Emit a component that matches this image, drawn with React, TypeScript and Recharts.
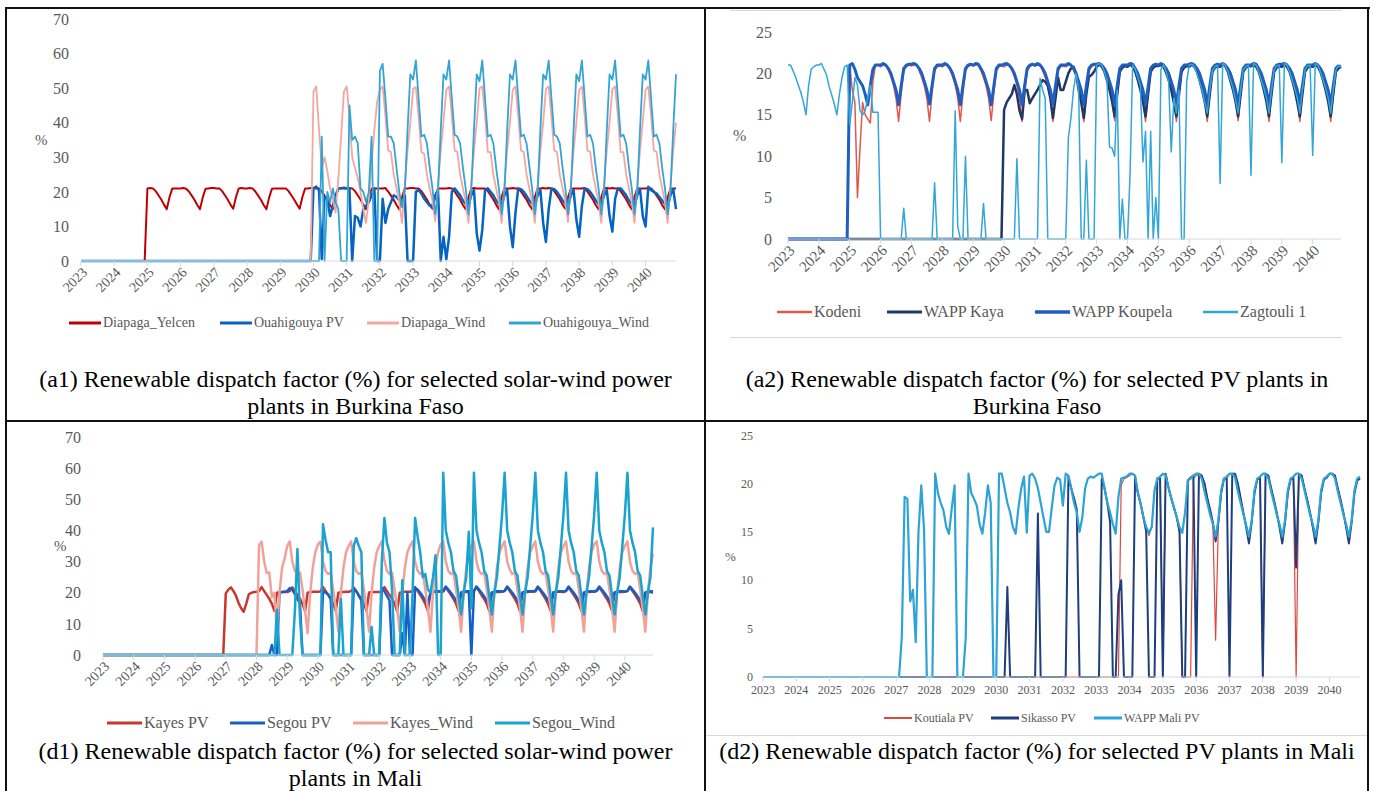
import React from "react";
import { LineChart, Line, XAxis, YAxis, Legend, Label } from "recharts";

const FONT = '"Liberation Serif", "Times New Roman", serif';
const GREY = "#595959";

const years = [2023, 2024, 2025, 2026, 2027, 2028, 2029, 2030, 2031, 2032, 2033, 2034, 2035, 2036, 2037, 2038, 2039, 2040];
const months = ["01", "02", "03", "04", "05", "06", "07", "08", "09", "10", "11", "12"];
const pvTicks = [0, 5, 10, 15, 20, 25];
const windTicks = [0, 10, 20, 30, 40, 50, 60, 70];

// ---- (a1) Burkina Faso, solar-wind: one row of monthly values per year ----
const diapagaYelcen = [
  [0, 0, 0, 0, 0, 0, 0, 0, 0, 0, 0, 0],
  [0, 0, 0, 0, 0, 0, 0, 0, 0, 0, 0, 0],
  [21, 21.1, 21, 20.2, 19, 17.8, 16.3, 15, 18.5, 21, 21, 21],
  [21, 21.1, 20.9, 20.1, 18.9, 17.7, 16.2, 15, 18.4, 20.9, 21, 21.1],
  [21.1, 21, 21, 20.2, 19, 17.8, 16.3, 15.1, 18.5, 21, 21.1, 21],
  [21, 21.1, 21, 20.1, 18.9, 17.7, 16.2, 15, 18.4, 20.9, 21, 21],
  [21, 21, 21, 20.2, 19, 17.8, 16.4, 15.1, 18.5, 21, 21, 21.1],
  [21.1, 21, 21, 20.1, 18.9, 17.6, 16.2, 15, 18.4, 21, 21.1, 21],
  [21, 21.1, 21, 20.2, 19, 17.8, 16.3, 15, 18.5, 20.9, 21, 21],
  [21, 21, 21.1, 20.1, 18.9, 17.7, 16.2, 15, 18.4, 21, 21, 21.1],
  [21.1, 21, 21, 20.2, 19, 17.8, 16.3, 15.1, 18.5, 21, 21, 21],
  [21, 21.1, 21, 20.1, 18.9, 17.7, 16.2, 15, 18.4, 20.9, 21.1, 21],
  [21, 21, 21, 20.2, 19, 17.8, 16.3, 15, 18.5, 21, 21, 21],
  [21.1, 21, 21, 20.1, 18.9, 17.7, 16.2, 15, 18.4, 21, 21, 21.1],
  [21, 21.1, 21, 20.2, 19, 17.8, 16.3, 15.1, 18.5, 20.9, 21, 21],
  [21, 21, 21.1, 20.1, 18.9, 17.7, 16.2, 15, 18.4, 21, 21.1, 21],
  [21.1, 21, 21, 20.2, 19, 17.8, 16.3, 15, 18.5, 21, 21, 21],
  [21, 21.1, 21, 20.1, 18.9, 17.7, 16.2, 15, 18.4, 20.9, 21, 21],
];
const ouahigouyaPV = [
  [0, 0, 0, 0, 0, 0, 0, 0, 0, 0, 0, 0],
  [0, 0, 0, 0, 0, 0, 0, 0, 0, 0, 0, 0],
  [0, 0, 0, 0, 0, 0, 0, 0, 0, 0, 0, 0],
  [0, 0, 0, 0, 0, 0, 0, 0, 0, 0, 0, 0],
  [0, 0, 0, 0, 0, 0, 0, 0, 0, 0, 0, 0],
  [0, 0, 0, 0, 0, 0, 0, 0, 0, 0, 0, 0],
  [0, 0, 0, 0, 0, 0, 0, 0, 0, 0, 0, 0],
  [21, 21.5, 20.5, 0.5, 18.5, 18, 13, 16, 19, 21, 21, 21.2],
  [21, 21, 0, 13, 12.5, 10, 15, 16, 17, 19, 21, 0],
  [0, 18, 11, 15, 17, 19, 18.5, 17.5, 16.5, 19, 0, 0],
  [0, 20, 20.5, 19.5, 18, 17, 16, 16, 19, 20.5, 0, 7],
  [0.5, 7, 20, 21, 20, 19, 17.5, 16.5, 16, 19, 20.5, 8],
  [3, 9, 20.5, 21, 20, 19, 17.5, 16.5, 16, 19, 20.5, 10],
  [4, 14, 21, 20.8, 20, 18.8, 17.5, 16.5, 16.2, 19, 20.5, 11],
  [5.5, 15, 21, 20.8, 20, 18.8, 17.5, 16.5, 16, 19, 20.5, 12],
  [7, 16, 21, 20.8, 20, 18.8, 17.5, 16.5, 16.2, 19, 20.5, 13],
  [8.5, 18, 21, 21, 20, 19, 17.5, 16.5, 16, 19, 20.8, 13],
  [10, 21.5, 20.5, 20, 19.5, 18.5, 17.5, 16.5, 16, 19, 20.8, 15],
];
const diapagaWind = [
  [0, 0, 0, 0, 0, 0, 0, 0, 0, 0, 0, 0],
  [0, 0, 0, 0, 0, 0, 0, 0, 0, 0, 0, 0],
  [0, 0, 0, 0, 0, 0, 0, 0, 0, 0, 0, 0],
  [0, 0, 0, 0, 0, 0, 0, 0, 0, 0, 0, 0],
  [0, 0, 0, 0, 0, 0, 0, 0, 0, 0, 0, 0],
  [0, 0, 0, 0, 0, 0, 0, 0, 0, 0, 0, 0],
  [0, 0, 0, 0, 0, 0, 0, 0, 0, 0, 0, 0],
  [49, 50.5, 38, 27, 30, 26, 21, 18, 14, 24, 36, 49],
  [50.5, 42, 30, 27, 24, 20, 15, 11, 18, 28, 38, 46],
  [49.5, 50.5, 42, 32, 31.5, 25, 21, 17, 11, 22, 32, 40],
  [49.8, 50.3, 41.5, 31.5, 31, 25, 21, 17.5, 11.5, 22, 32, 40.5],
  [49.5, 50.5, 42, 32, 31.5, 25, 21, 17, 11, 22, 32, 40],
  [50, 50.5, 42, 31.5, 31.5, 25, 21, 17, 11, 22, 32, 40],
  [49.5, 50.5, 42, 32, 31.5, 25, 21, 17, 11, 22, 32, 40],
  [49.8, 50.5, 41.5, 32, 31.5, 25, 21, 17, 11.2, 22, 32, 40],
  [49.5, 50.4, 42, 32, 31.5, 25, 21, 17, 11, 22, 32, 40],
  [49.8, 50.5, 42, 31.5, 31.5, 25, 21, 17, 11, 22, 32, 40.5],
  [49.5, 50.5, 42, 32, 31.5, 25, 21, 17, 11, 22, 32, 40],
];
const ouahigouyaWind = [
  [0, 0, 0, 0, 0, 0, 0, 0, 0, 0, 0, 0],
  [0, 0, 0, 0, 0, 0, 0, 0, 0, 0, 0, 0],
  [0, 0, 0, 0, 0, 0, 0, 0, 0, 0, 0, 0],
  [0, 0, 0, 0, 0, 0, 0, 0, 0, 0, 0, 0],
  [0, 0, 0, 0, 0, 0, 0, 0, 0, 0, 0, 0],
  [0, 0, 0, 0, 0, 0, 0, 0, 0, 0, 0, 0],
  [0, 0, 0, 0, 0, 0, 0, 0, 0, 0, 0, 0],
  [0, 0, 0, 36, 0, 20, 17, 21, 17, 15, 0, 0],
  [0, 45, 35, 36, 34, 21, 20, 17, 20, 36, 0, 0],
  [55, 57, 47, 36, 36, 34, 27, 20, 15.5, 20, 38, 54],
  [52.5, 58, 47, 36, 36.5, 34, 27, 21, 13.5, 20, 38, 54],
  [52.5, 58, 47, 36.5, 36, 34, 27, 21, 13.5, 20, 38, 54],
  [52, 58, 47, 36, 36.5, 34, 27, 21, 13.5, 20, 38, 54],
  [52.5, 58, 47, 36, 36.5, 34, 27.5, 21, 13.5, 20, 38, 54],
  [52.5, 58, 47, 36.5, 36, 34, 27, 21, 13.5, 20, 38, 54],
  [52, 58, 47, 36, 36.5, 34, 27, 21, 13.5, 20, 38, 54],
  [52.5, 58, 47, 36, 36.5, 34, 27, 21, 13.5, 20, 38, 54],
  [52.5, 58, 47, 36, 36.5, 34, 27, 21, 13.5, 20, 38, 54],
];

// ---- (a2) Burkina Faso, PV plants ----
const kodeni = [
  [0, 0, 0, 0, 0, 0, 0, 0, 0, 0, 0, 0],
  [0, 0, 0, 0, 0, 0, 0, 0, 0, 0, 0, 0],
  [21, 18, 16.5, 5, 11, 16.5, 15, 14.5, 14, 19, 21, 21],
  [20.8, 21, 21, 20.4, 19.6, 18.6, 17, 14.2, 17.5, 20.3, 20.8, 21],
  [20.9, 21, 21.1, 20.3, 19.5, 18.5, 17, 14.2, 17.6, 20.3, 20.8, 20.9],
  [20.8, 21, 21, 20.4, 19.6, 18.6, 17, 14.2, 17.5, 20.3, 20.8, 21],
  [20.9, 21, 21, 20.3, 19.5, 18.5, 17, 14.3, 17.5, 20.3, 20.8, 20.9],
  [20.8, 21, 21, 20.4, 19.6, 18.6, 17, 14.2, 17.5, 20.3, 20.8, 21],
  [20.9, 21, 21.1, 20.3, 19.5, 18.5, 17, 14.2, 17.6, 20.3, 20.8, 20.9],
  [20.8, 21, 21, 20.4, 19.6, 18.6, 17, 14.2, 17.5, 20.3, 20.8, 21],
  [20.9, 21, 21, 20.3, 19.5, 18.5, 17, 14.3, 17.5, 20.3, 20.8, 20.9],
  [20.8, 21, 21, 20.4, 19.6, 18.6, 17, 14.2, 17.5, 20.3, 20.8, 21],
  [20.9, 21, 21.1, 20.3, 19.5, 18.5, 17, 14.2, 17.6, 20.3, 20.8, 20.9],
  [20.8, 21, 21, 20.4, 19.6, 18.6, 17, 14.2, 17.5, 20.3, 20.8, 21],
  [20.9, 21, 21, 20.3, 19.5, 18.5, 17, 14.3, 17.5, 20.3, 20.8, 20.9],
  [20.8, 21, 21, 20.4, 19.6, 18.6, 17, 14.2, 17.5, 20.3, 20.8, 21],
  [20.9, 21, 21.1, 20.3, 19.5, 18.5, 17, 14.2, 17.6, 20.3, 20.8, 20.9],
  [20.8, 21, 21, 20.4, 19.6, 18.6, 17, 14.2, 17.5, 20.3, 20.6, 20.8],
];
const wappKaya = [
  [0, 0, 0, 0, 0, 0, 0, 0, 0, 0, 0, 0],
  [0, 0, 0, 0, 0, 0, 0, 0, 0, 0, 0, 0],
  [0, 0, 0, 0, 0, 0, 0, 0, 0, 0, 0, 0],
  [0, 0, 0, 0, 0, 0, 0, 0, 0, 0, 0, 0],
  [0, 0, 0, 0, 0, 0, 0, 0, 0, 0, 0, 0],
  [0, 0, 0, 0, 0, 0, 0, 0, 0, 0, 0, 0],
  [0, 0, 0, 0, 0, 0, 0, 0, 0, 0, 0, 0],
  [15.6, 16.5, 17, 17.5, 18.6, 17.5, 15.5, 14.5, 18, 18, 16.4, 17],
  [17.5, 18, 18.6, 19.2, 19, 18.5, 17, 14.6, 17, 19.5, 18, 18],
  [19, 20, 20.6, 20.8, 20, 18, 16.5, 14.6, 17.5, 19.6, 19.8, 20.2],
  [20.8, 21.1, 20.8, 20.2, 19.2, 18, 16.6, 14.8, 17.5, 20.2, 20.7, 20.9],
  [20.8, 21.1, 20.8, 20.2, 19.2, 18, 16.6, 14.8, 17.5, 20.2, 20.7, 20.9],
  [20.9, 21, 20.8, 20.1, 19.2, 18, 16.5, 14.8, 17.4, 20.2, 20.7, 20.9],
  [20.8, 21.1, 20.8, 20.2, 19.2, 18, 16.6, 14.8, 17.5, 20.2, 20.7, 20.9],
  [20.8, 21.1, 20.9, 20.2, 19.1, 18, 16.6, 14.8, 17.5, 20.2, 20.7, 20.9],
  [20.9, 21, 20.8, 20.2, 19.2, 18, 16.6, 14.8, 17.5, 20.2, 20.7, 20.9],
  [20.8, 21.1, 20.8, 20.2, 19.2, 18, 16.5, 14.8, 17.5, 20.2, 20.7, 20.9],
  [20.8, 21.1, 20.8, 20.2, 19.2, 18, 16.6, 14.8, 17.5, 20.2, 20.6, 20.8],
];
const wappKoupela = [
  [0, 0, 0, 0, 0, 0, 0, 0, 0, 0, 0, 0],
  [0, 0, 0, 0, 0, 0, 0, 0, 0, 0, 0, 0],
  [21, 21.2, 20.5, 19.5, 19, 18.5, 17.5, 16.2, 18.5, 20.5, 21, 21],
  [21, 21.2, 21, 20.6, 20, 19, 18, 16.2, 18.5, 20.6, 21, 21.1],
  [21.1, 21.2, 21, 20.6, 20, 19, 18, 16.3, 18.5, 20.6, 21, 21],
  [21, 21.2, 21, 20.6, 20, 19, 18, 16.2, 18.5, 20.6, 21, 21.1],
  [21, 21.2, 21.1, 20.6, 20, 19, 18, 16.2, 18.4, 20.6, 21, 21],
  [21.1, 21.2, 21, 20.6, 20, 19, 18, 16.2, 18.5, 20.6, 21, 21.1],
  [21, 21.2, 21, 20.6, 20, 19, 18, 16.3, 18.5, 20.6, 21, 21],
  [21, 21.2, 21, 20.6, 20, 19, 18, 16.2, 18.5, 20.6, 21, 21.1],
  [21.1, 21.2, 21, 20.6, 20, 19, 18, 16.2, 18.5, 20.6, 21, 21],
  [21, 21.2, 21.1, 20.6, 20, 19, 18, 16.2, 18.4, 20.6, 21, 21.1],
  [21, 21.2, 21, 20.6, 20, 19, 18, 16.3, 18.5, 20.6, 21, 21],
  [21.1, 21.2, 21, 20.6, 20, 19, 18, 16.2, 18.5, 20.6, 21, 21.1],
  [21, 21.2, 21, 20.6, 20, 19, 18, 16.2, 18.5, 20.6, 21, 21],
  [21, 21.2, 21.1, 20.6, 20, 19, 18, 16.2, 18.5, 20.6, 21, 21.1],
  [21.1, 21.2, 21, 20.6, 20, 19, 18, 16.3, 18.5, 20.6, 21, 21],
  [21, 21.2, 21, 20.6, 20, 19, 18, 16.2, 18.5, 20.6, 20.9, 20.8],
];
const zagtouli = [
  [21, 21, 20.3, 19.5, 18.6, 17.7, 16.5, 15, 18.5, 20.5, 20.8, 21],
  [21, 21.2, 20.5, 19.8, 18.4, 17.4, 16.3, 15, 17.5, 19.5, 20.8, 21],
  [13.8, 16.5, 19.5, 18.6, 15.5, 15, 15.5, 17, 18.6, 15.3, 15.3, 15.3],
  [0, 0, 0, 0, 0, 0, 0, 0, 0, 3.7, 0, 0],
  [0, 0, 0, 0, 0, 0, 0, 0, 0, 6.8, 0, 0],
  [0, 0, 0, 0, 0, 15.5, 1.5, 0, 0, 10, 0, 0],
  [0, 0, 0, 0, 4.3, 0, 0, 0, 0, 0, 0, 0],
  [0, 0, 0, 0, 0, 9.7, 0, 0, 0, 0, 0, 0],
  [0, 0, 19.4, 18, 17, 0, 0, 0, 0, 0, 0, 0],
  [0, 12.2, 14.6, 18, 20, 18, 0, 0, 9.5, 0, 0, 0],
  [21, 21.2, 21, 20.2, 19.2, 11.1, 11, 10, 18, 0, 4.8, 0],
  [0, 8, 21, 20.5, 19.5, 18.5, 9.3, 13, 0, 13, 0, 5],
  [0, 20.5, 21, 20.2, 19, 10.5, 17, 15.2, 18, 0, 0, 19],
  [21, 21.1, 20.8, 20, 19, 18, 16.5, 15.2, 18, 20.3, 20.8, 21],
  [6.7, 21.2, 21, 20.2, 19.2, 18.2, 16.8, 15.2, 18, 20.4, 20.8, 21],
  [7.7, 21.2, 21, 20.2, 19.2, 18.2, 17, 15.2, 18, 20.4, 20.9, 21],
  [9.2, 21.2, 21, 20.2, 19.2, 18.2, 17, 15.2, 18, 20.4, 20.9, 21],
  [10.1, 21.2, 21, 20.2, 19.2, 18.2, 17, 15.2, 18, 20.4, 20.9, 20.8],
];

// ---- (d1) Mali, solar-wind ----
const kayesPV = [
  [0, 0, 0, 0, 0, 0, 0, 0, 0, 0, 0, 0],
  [0, 0, 0, 0, 0, 0, 0, 0, 0, 0, 0, 0],
  [0, 0, 0, 0, 0, 0, 0, 0, 0, 0, 0, 0],
  [0, 0, 0, 0, 0, 0, 0, 0, 0, 0, 0, 0],
  [19.8, 21, 21.7, 20.5, 19, 16.7, 15, 13.9, 16.5, 19.5, 20, 20.2],
  [20.3, 20.5, 21.8, 20.5, 19.3, 18, 16.5, 14.2, 20, 20.2, 20.2, 20.3],
  [20.2, 20.5, 21.7, 20.5, 19.3, 18, 16.4, 14.1, 20, 20.2, 20.3, 20.3],
  [20.3, 20.4, 21.8, 20.6, 19.3, 18, 16.5, 14.2, 20, 20.2, 20.2, 20.3],
  [20.3, 20.5, 21.7, 20.5, 19.2, 18, 16.5, 14.2, 20.1, 20.2, 20.2, 20.2],
  [20.2, 20.5, 21.8, 20.5, 19.3, 18, 16.5, 14.1, 20, 20.2, 20.3, 20.3],
  [20.3, 20.5, 21.8, 20.6, 19.3, 18, 16.4, 14.2, 20, 20.2, 20.2, 20.3],
  [20.3, 20.4, 21.7, 20.5, 19.3, 18, 16.5, 14.2, 20, 20.2, 20.2, 20.3],
  [20.2, 20.5, 21.8, 20.5, 19.2, 18, 16.5, 14.2, 20, 20.3, 20.2, 20.2],
  [20.3, 20.5, 21.8, 20.5, 19.3, 18, 16.5, 14.1, 20, 20.2, 20.2, 20.3],
  [20.3, 20.4, 21.7, 20.6, 19.3, 18, 16.4, 14.2, 20.1, 20.2, 20.3, 20.3],
  [20.2, 20.5, 21.8, 20.5, 19.3, 18, 16.5, 14.2, 20, 20.2, 20.2, 20.3],
  [20.3, 20.5, 21.8, 20.5, 19.2, 18, 16.5, 14.2, 20, 20.2, 20.2, 20.2],
  [20.3, 20.5, 21.7, 20.5, 19.3, 18, 16.5, 14.1, 20, 20.2, 20.2, 20],
];
const segouPV = [
  [0, 0, 0, 0, 0, 0, 0, 0, 0, 0, 0, 0],
  [0, 0, 0, 0, 0, 0, 0, 0, 0, 0, 0, 0],
  [0, 0, 0, 0, 0, 0, 0, 0, 0, 0, 0, 0],
  [0, 0, 0, 0, 0, 0, 0, 0, 0, 0, 0, 0],
  [0, 0, 0, 0, 0, 0, 0, 0, 0, 0, 0, 0],
  [0, 0, 0, 0, 0, 0, 3.2, 0, 0, 20, 20.2, 20.3],
  [20.5, 21.5, 21, 19.5, 18, 16.5, 0, 0, 0, 0, 0, 0],
  [0, 0, 20.5, 20, 19.5, 18, 0, 0, 0, 0, 0, 0],
  [0, 0, 21, 20.5, 19, 17.5, 0, 0, 0, 0, 0, 0],
  [0, 21.5, 20.5, 19, 17.5, 0, 0, 0, 0, 7, 0, 20],
  [0, 0, 21.5, 21, 20, 18.8, 17.5, 16.3, 20, 20.4, 20.5, 20.5],
  [20.4, 20.6, 22, 21, 20, 18.8, 17.5, 16.3, 20, 20.4, 20.5, 20.5],
  [0, 20.6, 22, 21, 20, 18.8, 17.5, 16.3, 20, 20.4, 20.5, 20.5],
  [20.4, 20.6, 22, 21, 20, 18.8, 17.5, 16.2, 20, 20.4, 20.5, 20.5],
  [20.5, 20.6, 22, 21, 20, 18.8, 17.5, 16.3, 20, 20.4, 20.5, 20.5],
  [20.4, 20.6, 22, 21, 20, 18.8, 17.4, 16.3, 20, 20.4, 20.5, 20.5],
  [20.4, 20.7, 22, 21, 20, 18.8, 17.5, 16.3, 20, 20.4, 20.5, 20.5],
  [20.4, 20.6, 22, 21, 20, 18.8, 17.5, 16.3, 20, 20.4, 20.5, 20.4],
];
const kayesWind = [
  [0, 0, 0, 0, 0, 0, 0, 0, 0, 0, 0, 0],
  [0, 0, 0, 0, 0, 0, 0, 0, 0, 0, 0, 0],
  [0, 0, 0, 0, 0, 0, 0, 0, 0, 0, 0, 0],
  [0, 0, 0, 0, 0, 0, 0, 0, 0, 0, 0, 0],
  [0, 0, 0, 0, 0, 0, 0, 0, 0, 0, 0, 0],
  [0, 35.3, 36.4, 30, 26.3, 26.5, 18.5, 20, 7.5, 20, 28, 31],
  [35, 36.5, 30, 27, 26, 26.5, 21, 14, 7, 20, 28, 33],
  [35.5, 36.4, 30, 27, 26, 26.5, 21, 15, 7.5, 20, 28, 33],
  [35, 36.5, 30, 27, 26, 26.5, 21, 15, 7.5, 20, 28, 33],
  [35, 36.5, 30.5, 27, 26, 26.5, 21, 15, 7.5, 20, 28, 33],
  [35, 36.5, 30, 27, 26, 26.5, 21, 15, 7.5, 20, 28, 33],
  [35.5, 36.5, 30, 27, 26, 26.5, 21, 15, 7.5, 20, 28, 33],
  [35, 36.5, 30, 27, 26, 26.5, 21, 15, 7.5, 20, 28, 33],
  [35, 36.5, 30, 27.5, 26, 26.5, 21, 15, 7.5, 20, 28, 33],
  [35, 36.5, 30, 27, 26, 26.5, 21, 15, 7.5, 20, 28, 33],
  [35, 36.5, 30, 27, 26, 26.5, 21, 15, 7.5, 20, 28, 33],
  [35.5, 36.5, 30, 27, 26, 26.5, 21, 15, 7.5, 20, 28, 33],
  [35, 36.5, 30, 27, 26, 26.5, 21, 15, 7.5, 20, 28, 32.5],
];
const segouWind = [
  [0, 0, 0, 0, 0, 0, 0, 0, 0, 0, 0, 0],
  [0, 0, 0, 0, 0, 0, 0, 0, 0, 0, 0, 0],
  [0, 0, 0, 0, 0, 0, 0, 0, 0, 0, 0, 0],
  [0, 0, 0, 0, 0, 0, 0, 0, 0, 0, 0, 0],
  [0, 0, 0, 0, 0, 0, 0, 0, 0, 0, 0, 0],
  [0, 0, 0, 0, 0, 0, 0, 0, 14.5, 0, 0, 0],
  [0, 0, 0, 14, 34, 12, 0, 0, 0, 0, 0, 0],
  [0, 0, 42, 37, 33, 33, 0, 0, 0, 18, 0, 0],
  [0, 0, 35, 37.5, 35, 33, 0, 0, 0, 9, 0, 0],
  [0, 30, 44, 36, 33, 21, 0, 0, 0, 24, 0, 0],
  [0, 20, 44, 38, 33, 25, 26, 21, 20, 25, 32, 0],
  [0, 58.5, 40, 36, 33, 27, 25.5, 19, 13, 20, 25, 39.6],
  [15, 58.5, 40, 36, 33, 27, 25.5, 19, 13, 20, 25, 35],
  [45, 58.5, 40, 36, 33, 27, 25.5, 19, 13, 20, 25, 35],
  [45, 58.5, 40, 36, 33, 27, 25.5, 19, 13, 20, 25, 35],
  [45, 58.5, 40, 36, 33, 27, 25.5, 19, 13, 20, 25, 35],
  [45, 58.5, 40, 36, 33, 27, 25.5, 19, 13, 20, 25, 35],
  [45, 58.5, 40, 36, 33, 27, 25.5, 19, 13, 20, 25, 41],
];

// ---- (d2) Mali, PV plants ----
const koutialaPV = [
  [0, 0, 0, 0, 0, 0, 0, 0, 0, 0, 0, 0],
  [0, 0, 0, 0, 0, 0, 0, 0, 0, 0, 0, 0],
  [0, 0, 0, 0, 0, 0, 0, 0, 0, 0, 0, 0],
  [0, 0, 0, 0, 0, 0, 0, 0, 0, 0, 0, 0],
  [0, 0, 0, 0, 0, 0, 0, 0, 0, 0, 0, 0],
  [0, 0, 0, 0, 0, 0, 0, 0, 0, 0, 0, 0],
  [0, 0, 0, 0, 0, 0, 0, 0, 0, 0, 0, 0],
  [0, 0, 0, 0, 0, 0, 0, 0, 0, 0, 0, 0],
  [0, 0, 0, 0, 0, 0, 0, 0, 0, 0, 0, 0],
  [0, 0, 0, 0, 0, 0, 0, 0, 0, 0, 0, 0],
  [0, 0, 0, 0, 0, 0, 0, 0, 0, 19.8, 20.5, 20.6],
  [20.8, 21, 20.7, 19, 17.9, 16.5, 15.5, 14.6, 15.5, 19.3, 20.5, 20.6],
  [0, 21, 19.6, 18.5, 17.5, 16.5, 15, 0, 0, 0, 0, 20.5],
  [20.8, 21, 20.8, 20, 18.5, 17.3, 16, 3.8, 16, 19, 20.5, 20.5],
  [21, 21, 21, 20, 18.5, 17, 15.5, 14, 16, 19, 20.4, 20.6],
  [0, 21, 20.8, 19.5, 18.3, 17, 15.5, 14, 16, 19, 20.4, 20.6],
  [0, 21, 20.8, 19.5, 18.3, 17, 15.5, 14, 16, 19, 20.4, 20.6],
  [21, 21, 20.8, 19.5, 18.3, 17, 15.5, 14, 16, 19, 20.3, 20.5],
];
const sikassoPV = [
  [0, 0, 0, 0, 0, 0, 0, 0, 0, 0, 0, 0],
  [0, 0, 0, 0, 0, 0, 0, 0, 0, 0, 0, 0],
  [0, 0, 0, 0, 0, 0, 0, 0, 0, 0, 0, 0],
  [0, 0, 0, 0, 0, 0, 0, 0, 0, 0, 0, 0],
  [0, 0, 0, 0, 0, 0, 0, 0, 0, 0, 0, 0],
  [0, 0, 0, 0, 0, 0, 0, 0, 0, 0, 0, 0],
  [0, 0, 0, 0, 0, 0, 0, 0, 0, 0, 0, 0],
  [0, 0, 0, 0, 9.3, 0, 0, 0, 0, 0, 0, 0],
  [0, 0, 0, 16.9, 0, 0, 0, 0, 0, 0, 0, 0],
  [0, 0, 20.7, 19.5, 18.5, 17.3, 0, 0, 0, 0, 0, 0],
  [0, 0, 20.5, 19.5, 18, 16, 0, 0, 8.5, 10, 0, 0],
  [0, 0, 20.7, 19, 17.9, 16.5, 15, 0, 0, 0, 20.5, 20.5],
  [0, 21, 19.6, 18.5, 17.5, 16.5, 15, 0, 0, 20.3, 20.6, 20.8],
  [0, 21, 20.8, 20, 18.5, 17.3, 16, 14, 16, 19, 20.5, 20.5],
  [0, 21, 21, 20, 18.5, 17, 15.5, 13.8, 16, 19, 20.4, 20.6],
  [0, 21, 20.8, 19.5, 18.3, 17, 15.5, 13.8, 16, 19, 20.4, 20.6],
  [11.3, 21, 20.8, 19.5, 18.3, 17, 15.5, 13.8, 16, 19, 20.4, 20.6],
  [21, 21, 20.8, 19.5, 18.3, 17, 15.5, 13.8, 16, 19, 20.3, 20.5],
];
const wappMaliPV = [
  [0, 0, 0, 0, 0, 0, 0, 0, 0, 0, 0, 0],
  [0, 0, 0, 0, 0, 0, 0, 0, 0, 0, 0, 0],
  [0, 0, 0, 0, 0, 0, 0, 0, 0, 0, 0, 0],
  [0, 0, 0, 0, 0, 0, 0, 0, 0, 0, 0, 0],
  [0, 0, 4.2, 18.6, 18.4, 7.8, 9, 3.6, 15, 19.8, 15.2, 0],
  [0, 0, 21, 19, 18, 17.2, 15.5, 14.8, 17.5, 19.8, 0, 0],
  [0, 4, 21, 19, 18.4, 17.7, 15.8, 14.8, 17, 19.8, 18, 0],
  [0, 21, 21, 19.5, 18, 17, 15.5, 14.8, 17.5, 19.5, 20.7, 14.9],
  [20.8, 21, 20.5, 19.5, 18, 16.5, 15, 15, 17.5, 19.8, 20.6, 20.4],
  [17.7, 21, 20.8, 19.5, 18, 17, 15, 16.5, 19.5, 20.5, 20.7, 20.6],
  [20.8, 21, 21, 19.5, 18, 17, 15.8, 14.8, 18.6, 20.5, 20.6, 20.7],
  [21, 21, 20.8, 19, 17.9, 16.5, 15.5, 14.9, 15.5, 19.3, 20.5, 20.7],
  [21, 20.9, 19.6, 18.5, 17.5, 16.5, 15.5, 14.9, 17, 20.3, 20.5, 20.8],
  [21, 21, 20.5, 19.2, 18, 16.8, 15.8, 14.5, 16.2, 19.3, 20.5, 20.7],
  [21, 21, 20.6, 19.2, 18, 16.8, 15.7, 14.5, 16.2, 19.3, 20.5, 20.7],
  [21, 21, 20.5, 19.2, 18, 16.8, 15.8, 14.5, 16.2, 19.3, 20.5, 20.7],
  [21, 21, 20.5, 19.3, 18, 16.8, 15.8, 14.5, 16.2, 19.3, 20.5, 20.7],
  [21, 21, 20.5, 19.2, 18, 16.8, 15.8, 14.5, 16.2, 19.3, 20.5, 20.7],
];

const monthLabels = years.flatMap((y) => months.map((m) => `${y}-${m}`));

function buildRows(series: Record<string, number[][]>) {
  const flat: Record<string, number[]> = {};
  Object.keys(series).forEach((k) => (flat[k] = series[k].flat()));
  return monthLabels.map((month, i) => {
    const row: Record<string, string | number> = { month };
    Object.keys(flat).forEach((k) => (row[k] = flat[k][i]));
    return row;
  });
}

type SeriesDef = { key: string; name: string; color: string; width: number; legendWidth: number };

type PanelDef = {
  id: string;
  data: Record<string, string | number>[];
  series: SeriesDef[];
  x0: number; y0: number;
  plotL: number; plotR: number; plotT: number; plotB: number;
  xh: number; mb: number;
  yMax: number; yTicks: number[]; yFont: number; yGap: number;
  xFont: number; rotated: boolean;
  pctX: number; pctFont: number;
  legendY: number; legendX: number[]; markerLen: number; legendFont: number;
};

const a1: PanelDef = {
  id: "a1",
  data: buildRows({ diapagaYelcen, ouahigouyaPV, diapagaWind, ouahigouyaWind }),
  series: [
    { key: "diapagaYelcen", name: "Diapaga_Yelcen", color: "#C00000", width: 2, legendWidth: 3 },
    { key: "ouahigouyaPV", name: "Ouahigouya PV", color: "#0563C1", width: 2.5, legendWidth: 3 },
    { key: "diapagaWind", name: "Diapaga_Wind", color: "#F4A6A0", width: 1.8, legendWidth: 3 },
    { key: "ouahigouyaWind", name: "Ouahigouya_Wind", color: "#34A4D4", width: 1.8, legendWidth: 3 },
  ],
  x0: 10, y0: 5, plotL: 81, plotR: 676, plotT: 19, plotB: 261, xh: 50, mb: 45,
  yMax: 70, yTicks: windTicks, yFont: 16, yGap: 12, xFont: 14, rotated: true,
  pctX: 35, pctFont: 15,
  legendY: 323, legendX: [69, 220, 367, 509], markerLen: 32, legendFont: 14,
};

const a2: PanelDef = {
  id: "a2",
  data: buildRows({ kodeni, wappKaya, wappKoupela, zagtouli }),
  series: [
    { key: "kodeni", name: "Kodeni", color: "#E2574C", width: 1.5, legendWidth: 2.5 },
    { key: "wappKaya", name: "WAPP Kaya", color: "#1F3864", width: 2.5, legendWidth: 3 },
    { key: "wappKoupela", name: "WAPP Koupela", color: "#1F5FC0", width: 3, legendWidth: 3.5 },
    { key: "zagtouli", name: "Zagtouli 1", color: "#33A6D8", width: 1.5, legendWidth: 2.5 },
  ],
  x0: 720, y0: 15, plotL: 788, plotR: 1341, plotT: 32, plotB: 239, xh: 55, mb: 40,
  yMax: 25, yTicks: pvTicks, yFont: 16, yGap: 16, xFont: 15, rotated: true,
  pctX: 733, pctFont: 16,
  legendY: 312, legendX: [777, 887, 1035, 1203], markerLen: 35, legendFont: 16,
};

const d1: PanelDef = {
  id: "d1",
  data: buildRows({ kayesPV, segouPV, kayesWind, segouWind }),
  series: [
    { key: "kayesPV", name: "Kayes PV", color: "#C8372D", width: 2.5, legendWidth: 3 },
    { key: "segouPV", name: "Segou PV", color: "#1560C8", width: 2.5, legendWidth: 3 },
    { key: "kayesWind", name: "Kayes_Wind", color: "#F0A29A", width: 2.5, legendWidth: 3 },
    { key: "segouWind", name: "Segou_Wind", color: "#1AA3CF", width: 2.5, legendWidth: 3 },
  ],
  x0: 30, y0: 428, plotL: 103, plotR: 653, plotT: 437, plotB: 655, xh: 50, mb: 30,
  yMax: 70, yTicks: windTicks, yFont: 16, yGap: 22, xFont: 14, rotated: true,
  pctX: 54, pctFont: 15,
  legendY: 723, legendX: [107, 230, 353, 495], markerLen: 35, legendFont: 16,
};

const d2: PanelDef = {
  id: "d2",
  data: buildRows({ koutialaPV, sikassoPV, wappMaliPV }),
  series: [
    { key: "koutialaPV", name: "Koutiala PV", color: "#E0473E", width: 1.2, legendWidth: 2 },
    { key: "sikassoPV", name: "Sikasso PV", color: "#1F3E7C", width: 2, legendWidth: 3 },
    { key: "wappMaliPV", name: "WAPP Mali PV", color: "#2EA3D5", width: 2.2, legendWidth: 3 },
  ],
  x0: 712, y0: 428, plotL: 763, plotR: 1360, plotT: 435, plotB: 677, xh: 25, mb: 25,
  yMax: 25, yTicks: pvTicks, yFont: 12, yGap: 10, xFont: 12, rotated: false,
  pctX: 725, pctFont: 13,
  legendY: 718, legendX: [884, 991, 1094], markerLen: 28, legendFont: 12,
};

function RotatedTick(props: any) {
  const { x, y, payload, fontSize } = props;
  const ax = x + 4;
  const ay = y + 4;
  return (
    <text x={ax} y={ay} textAnchor="end" dominantBaseline="central" transform={`rotate(-45 ${ax} ${ay})`}
      fontSize={fontSize} fill={GREY} fontFamily={FONT}>
      {String(payload.value).slice(0, 4)}
    </text>
  );
}

function FlatTick(props: any) {
  const { x, y, payload, fontSize } = props;
  return (
    <text x={x} y={y + 3} textAnchor="middle" dominantBaseline="hanging" fontSize={fontSize} fill={GREY} fontFamily={FONT}>
      {String(payload.value).slice(0, 4)}
    </text>
  );
}

function Panel({ p }: { p: PanelDef }) {
  const yw = p.plotL - p.x0;
  const mr = 10;
  const mt = p.plotT - p.y0;
  const W = p.plotR - p.x0 + mr;
  const H = p.plotB - p.y0 + p.xh + p.mb;

  const legend = () => (
    <div style={{ position: "relative", width: W, height: 20 }}>
      {p.series.map((s, i) => (
        <div key={s.key} style={{ position: "absolute", left: p.legendX[i] - p.x0, top: 0, height: 20, display: "flex", alignItems: "center", whiteSpace: "nowrap" }}>
          <svg width={p.markerLen} height={8} style={{ display: "block" }}>
            <line x1={0} y1={4} x2={p.markerLen} y2={4} stroke={s.color} strokeWidth={s.legendWidth} />
          </svg>
          <span style={{ marginLeft: 2, fontSize: p.legendFont, color: GREY, fontFamily: FONT, lineHeight: "20px" }}>{s.name}</span>
        </div>
      ))}
    </div>
  );

  return (
    <div style={{ position: "absolute", left: p.x0, top: p.y0 }}>
      <LineChart width={W} height={H} data={p.data} margin={{ top: mt, right: mr, bottom: p.mb, left: 0 }}>
        <XAxis
          dataKey="month"
          interval={11}
          height={p.xh}
          axisLine={{ stroke: "#D9D9D9" }}
          tickLine={{ stroke: "#D9D9D9" }}
          tickSize={5}
          tickMargin={0}
          tick={(props: any) => (p.rotated ? <RotatedTick {...props} fontSize={p.xFont} /> : <FlatTick {...props} fontSize={p.xFont} />)}
        />
        <YAxis
          type="number"
          domain={[0, p.yMax]}
          ticks={p.yTicks}
          width={yw}
          axisLine={false}
          tickLine={false}
          tickSize={0}
          tickMargin={p.yGap}
          tick={{ fontSize: p.yFont, fill: GREY, fontFamily: FONT }}
        >
          <Label value="%" position="insideLeft" offset={p.pctX - p.x0} style={{ fontSize: p.pctFont, fill: GREY, fontFamily: FONT }} />
        </YAxis>
        <Legend verticalAlign="middle" align="center" layout="horizontal" content={legend}
          wrapperStyle={{ top: p.legendY - p.y0 - 10, left: 0, width: W, height: 20 }} />
        {p.series.map((s) => (
          <Line key={s.key} type="linear" dataKey={s.key} name={s.name} stroke={s.color} strokeWidth={s.width}
            dot={false} activeDot={false} isAnimationActive={false} strokeLinejoin="round" />
        ))}
      </LineChart>
    </div>
  );
}

const rule = (left: number, top: number, width: number, height: number, color = "#111") => (
  <div style={{ position: "absolute", left, top, width, height, background: color }} />
);

const titleStyle = (left: number, top: number, width: number): React.CSSProperties => ({
  position: "absolute", left, top, width, textAlign: "center", fontFamily: FONT, fontSize: 24, lineHeight: "27px", color: "#000",
});

export default function App() {
  return (
    <div style={{ position: "relative", width: 1375, height: 791, background: "#fff", overflow: "hidden", fontFamily: FONT }}>
      <style>{"body{margin:0}"}</style>
      {rule(730, 10, 612, 1, "#D9D9D9")}
      {rule(730, 337, 612, 1, "#D9D9D9")}
      {rule(706, 735, 662, 1, "#D9D9D9")}

      <Panel p={a1} />
      <Panel p={a2} />
      <Panel p={d1} />
      <Panel p={d2} />

      <div style={titleStyle(6, 366, 699)}>
        (a1) Renewable dispatch factor (%) for selected solar-wind power<br />plants in Burkina Faso
      </div>
      <div style={titleStyle(705, 366, 664)}>
        (a2) Renewable dispatch factor (%) for selected PV plants in<br />Burkina Faso
      </div>
      <div style={titleStyle(6, 738, 699)}>
        (d1) Renewable dispatch factor (%) for selected solar-wind power<br />plants in Mali
      </div>
      <div style={titleStyle(705, 738, 664)}>
        (d2) Renewable dispatch factor (%) for selected PV plants in Mali
      </div>

      {rule(5, 7, 1365, 2)}
      {rule(5, 7, 2, 784)}
      {rule(704, 7, 2, 784)}
      {rule(1367, 7, 2, 784)}
      {rule(5, 420, 1364, 2)}
    </div>
  );
}
